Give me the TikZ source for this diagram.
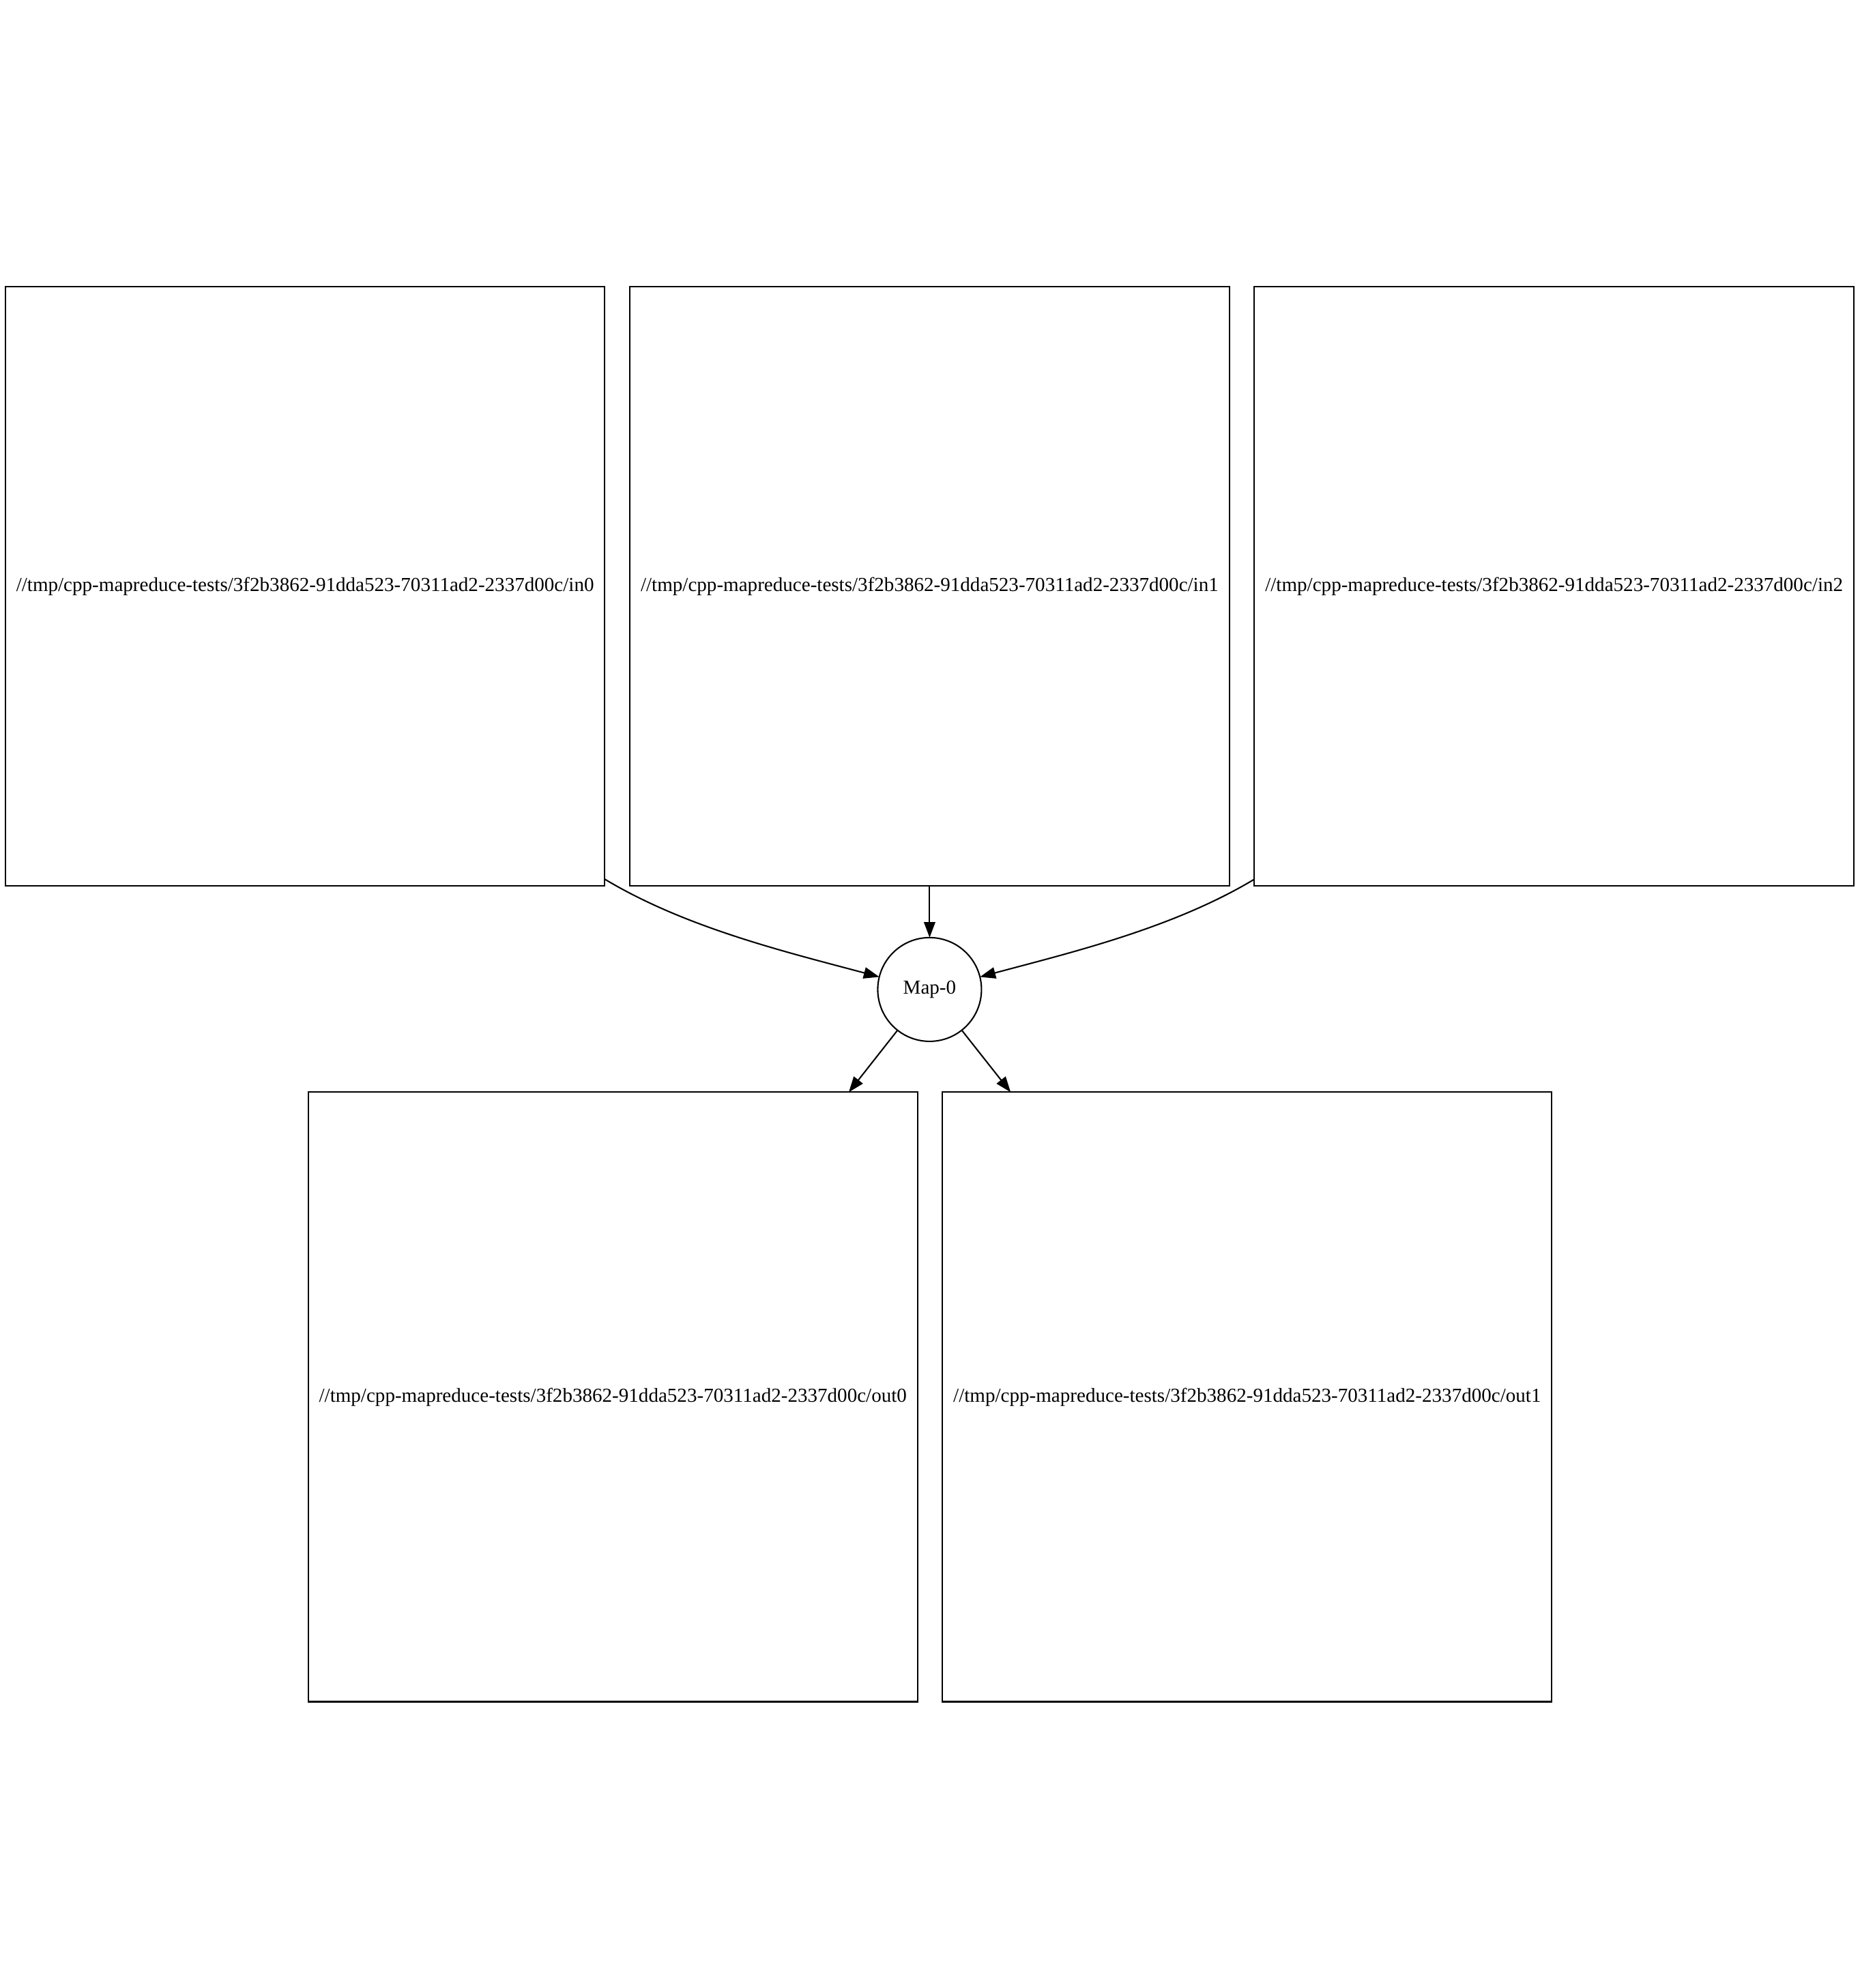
\documentclass[tikz,border=0pt]{standalone}
\usepackage{fontspec}
\setmainfont{Liberation Serif}
\usepackage{tikz}
\usetikzlibrary{arrows.meta,positioning}

\tikzset{
  file/.style={draw, rectangle, outer sep=0pt, inner sep=0pt,
    minimum width=423pt, minimum height=423pt, font=\fontsize{14}{16}\selectfont},
  bigfile/.style={file, minimum width=430pt, minimum height=430pt},
  task/.style={draw, circle, outer sep=0pt, inner sep=0pt,
    minimum size=73.2pt, font=\fontsize{14}{16}\selectfont}
}

\begin{document}
\begin{tikzpicture}[>={Triangle[length=11pt,width=8pt]}, line width=1pt, node distance=17.7pt]
\useasboundingbox (0,0) rectangle (1312.1pt,-1402.6pt);

\node (In1) [file] at (656pt,-413.6pt) {//tmp/cpp-mapreduce-tests/3f2b3862-91dda523-70311ad2-2337d00c/in1};
\node (In0) [file, left=of In1] {//tmp/cpp-mapreduce-tests/3f2b3862-91dda523-70311ad2-2337d00c/in0};
\node (In2) [file, right=of In1] {//tmp/cpp-mapreduce-tests/3f2b3862-91dda523-70311ad2-2337d00c/in2};
\node (Map) [task, below=36.4pt of In1] {Map-0};
\node (Out0) [bigfile, below=35.9pt of Map, anchor=north east, xshift=-8.5pt] {//tmp/cpp-mapreduce-tests/3f2b3862-91dda523-70311ad2-2337d00c/out0};
\node (Out1) [bigfile, below=35.9pt of Map, anchor=north west, xshift=9.1pt] {//tmp/cpp-mapreduce-tests/3f2b3862-91dda523-70311ad2-2337d00c/out1};

\draw[->] (In1) -- (Map);
\draw[->] ([yshift=4.8pt]In0.south east) .. controls +(-31:67pt) and +(165:67pt) .. (Map.166);
\draw[->] ([yshift=4.8pt]In2.south west) .. controls +(211:67pt) and +(15:67pt) .. (Map.14);
\draw[->] (Map) -- (Out0);
\draw[->] (Map) -- (Out1);

\end{tikzpicture}
\end{document}
